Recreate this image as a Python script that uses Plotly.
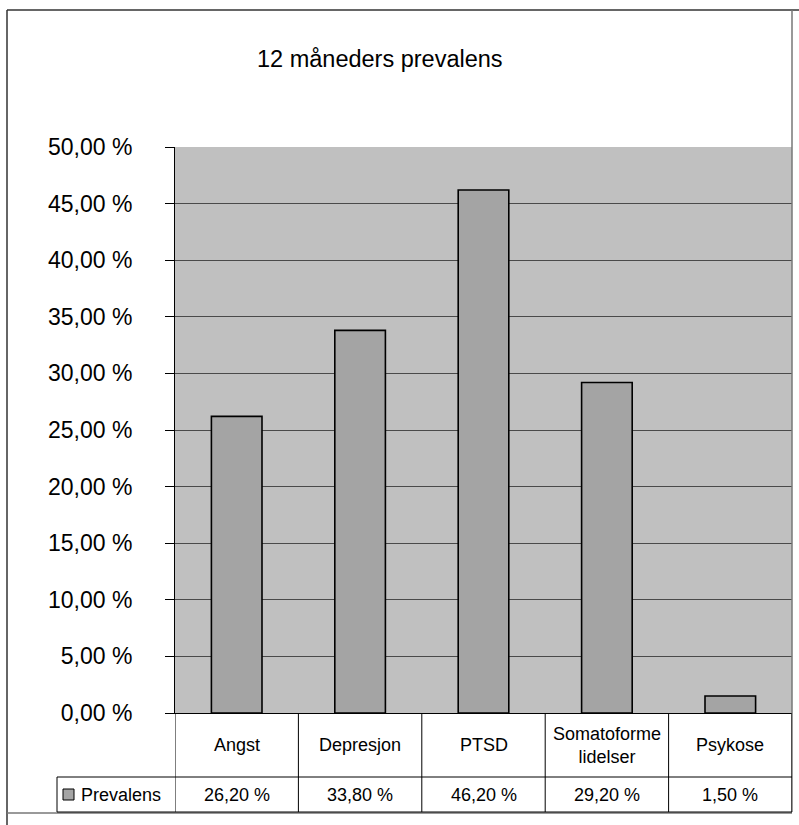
import plotly.graph_objects as go

categories = ["Angst", "Depresjon", "PTSD", "Somatoforme<br>lidelser", "Psykose"]
values = [26.2, 33.8, 46.2, 29.2, 1.5]
series_name = "Prevalens"
title_text = "12 måneders prevalens"

W, H = 799, 825
L, R, T, B = 175, 792, 147, 713
PW, PH = R - L, B - T
FONT = "Liberation Sans, Arial, sans-serif"
BAR = "#A4A4A4"
BG = "#C0C0C0"


def px(x):
    return (x - L) / PW


def py(y):
    return (B - y) / PH


def fmt(v):
    return f"{v:.2f}".replace(".", ",") + " %"


fig = go.Figure()
fig.add_trace(go.Bar(
    x=list(range(len(categories))), y=values, name=series_name,
    marker=dict(color=BAR, line=dict(color="#000000", width=1.6)),
    showlegend=False, hoverinfo="skip",
))

shapes = []
annotations = []

# outer frame
frame = dict(type="line", xref="paper", yref="paper", line=dict(color="#333333", width=1.5))
shapes.append({**frame, "x0": px(7), "x1": px(799), "y0": py(10), "y1": py(10)})
shapes.append({**frame, "x0": px(7), "x1": px(7), "y0": py(10), "y1": py(825)})
shapes.append({**frame, "x0": px(792), "x1": px(792), "y0": py(10), "y1": py(812),
               "line": dict(color="#777777", width=1.5)})
shapes.append({**frame, "x0": px(7), "x1": px(792), "y0": py(813), "y1": py(813),
               "line": dict(color="#777777", width=1.5)})

# data table
row1_bottom, row2_bottom = 777, 812
tline = dict(type="line", line=dict(color="#000000", width=1))
for k in range(len(categories) + 1):
    shapes.append({**tline, "xref": "x", "yref": "paper", "x0": k - 0.5, "x1": k - 0.5,
                   "y0": py(B), "y1": py(row2_bottom)})
shapes.append({**tline, "xref": "paper", "yref": "paper", "x0": px(57), "x1": 1,
               "y0": py(row1_bottom), "y1": py(row1_bottom)})
shapes.append({**tline, "xref": "paper", "yref": "paper", "x0": px(57), "x1": 1,
               "y0": py(row2_bottom), "y1": py(row2_bottom)})
shapes.append({**tline, "xref": "paper", "yref": "paper", "x0": px(57), "x1": px(57),
               "y0": py(row1_bottom), "y1": py(row2_bottom)})
# legend key
shapes.append(dict(type="rect", xref="paper", yref="paper", x0=px(63), x1=px(74),
                   y0=py(800), y1=py(789), fillcolor=BAR,
                   line=dict(color="#000000", width=1)))

for i, (c, v) in enumerate(zip(categories, values)):
    annotations.append(dict(x=i, y=py((B + row1_bottom) / 2), xref="x", yref="paper",
                            text=c, showarrow=False, font=dict(family=FONT, size=18, color="#000"),
                            xanchor="center", yanchor="middle"))
    annotations.append(dict(x=i, y=py((row1_bottom + row2_bottom) / 2), xref="x", yref="paper",
                            text=fmt(v), showarrow=False, font=dict(family=FONT, size=18, color="#000"),
                            xanchor="center", yanchor="middle"))
annotations.append(dict(x=px(79), y=py((row1_bottom + row2_bottom) / 2), xref="paper", yref="paper",
                        text=series_name, showarrow=False, font=dict(family=FONT, size=18, color="#000"),
                        xanchor="left", yanchor="middle"))
annotations.append(dict(x=px(380), y=py(59), xref="paper", yref="paper",
                        text=title_text, showarrow=False, font=dict(family=FONT, size=23.5, color="#000"),
                        xanchor="center", yanchor="middle"))

fig.update_layout(
    width=W, height=H,
    margin=dict(l=L, r=W - R, t=T, b=H - B, pad=0),
    paper_bgcolor="white", plot_bgcolor=BG,
    separators=", ",
    bargap=0.59,
    shapes=shapes, annotations=annotations,
    font=dict(family=FONT, color="#000"),
)
fig.update_xaxes(range=[-0.5, len(categories) - 0.5], showticklabels=False, showgrid=False,
                 zeroline=False, showline=True, linecolor="#000", linewidth=1, ticks="")
fig.update_yaxes(range=[0, 50], dtick=5, tickformat=".2f", ticksuffix=" %",
                 showgrid=True, gridcolor="#4a4a4a", gridwidth=1, zeroline=False,
                 showline=True, linecolor="#000", linewidth=1,
                 ticks="outside", ticklen=9, tickcolor="#000", tickwidth=1,
                 ticklabelstandoff=28,
                 tickfont=dict(family=FONT, size=23, color="#000"))

fig.write_html("out.html", config={"displayModeBar": False, "staticPlot": True},
               post_script="document.body.style.margin='0';document.body.style.overflow='hidden';")
